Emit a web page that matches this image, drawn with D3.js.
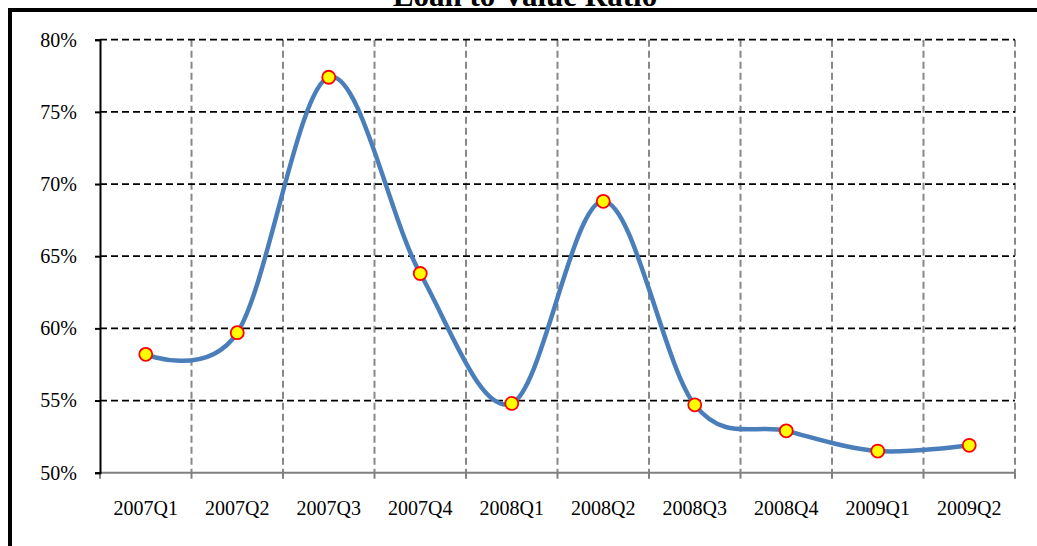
<!DOCTYPE html>
<html>
<head>
<meta charset="utf-8">
<script src="https://cdn.jsdelivr.net/npm/d3@7"></script>
<style>
  html, body { margin: 0; padding: 0; background: #fff; }
  svg { display: block; }
</style>
</head>
<body>
<div id="chart"></div>
<script>
// Quarterly loan-to-value ratio (percent)
const quarters = ["2007Q1", "2007Q2", "2007Q3", "2007Q4", "2008Q1", "2008Q2", "2008Q3", "2008Q4", "2009Q1", "2009Q2"];
const ltvValues = [58.2, 59.7, 77.4, 63.8, 54.8, 68.8, 54.7, 52.9, 51.5, 51.9];
const yTicks = [50, 55, 60, 65, 70, 75, 80];
const chartTitle = "Loan to Value Ratio";

const W = 1037, H = 546;
const margin = { left: 100, right: 22, top: 39.7, bottom: 73.3 };
const plotW = W - margin.left - margin.right;
const plotH = H - margin.top - margin.bottom;
const serif = "'Liberation Serif', 'Times New Roman', serif";

const svg = d3.select("#chart").append("svg")
  .attr("width", W).attr("height", H);

// Outer frame
svg.append("rect")
  .attr("x", 10).attr("y", 10)
  .attr("width", W + 20).attr("height", H + 20)
  .attr("fill", "none").attr("stroke", "#000").attr("stroke-width", 4);

// Title (sits above the frame, partly beyond the top edge)
svg.append("text")
  .attr("x", 525).attr("y", 6)
  .attr("text-anchor", "middle")
  .attr("font-family", serif).attr("font-weight", "bold").attr("font-size", 31)
  .text(chartTitle);

const g = svg.append("g").attr("transform", `translate(${margin.left},${margin.top})`);

const x = d3.scaleBand().domain(quarters).range([0, plotW]);
const y = d3.scaleLinear().domain([50, 80]).range([plotH, 0]);

// Vertical grid lines at category boundaries
const bounds = quarters.map(q => x(q)).concat([plotW]);
g.append("g").selectAll("line").data(bounds.slice(1)).join("line")
  .attr("x1", d => d).attr("x2", d => d)
  .attr("y1", 0).attr("y2", plotH)
  .attr("stroke", "#888").attr("stroke-width", 2)
  .attr("stroke-dasharray", "7,4");

// Horizontal grid lines
g.append("g").selectAll("line").data(yTicks.filter(t => t > 50)).join("line")
  .attr("x1", 0).attr("x2", plotW)
  .attr("y1", d => y(d)).attr("y2", d => y(d))
  .attr("stroke", "#000").attr("stroke-width", 1.7)
  .attr("stroke-dasharray", "7,4");

// X axis: gray baseline with tick marks at boundaries
const xAxisG = g.append("g").attr("transform", `translate(0,${plotH})`);
xAxisG.append("line")
  .attr("x1", 0).attr("x2", plotW)
  .attr("stroke", "#808080").attr("stroke-width", 2);
xAxisG.selectAll("line.tick").data(bounds).join("line")
  .attr("class", "tick")
  .attr("x1", d => d).attr("x2", d => d)
  .attr("y1", 0).attr("y2", 6)
  .attr("stroke", "#808080").attr("stroke-width", 2);
xAxisG.selectAll("text").data(quarters).join("text")
  .attr("x", d => x(d) + x.bandwidth() / 2)
  .attr("y", 42)
  .attr("text-anchor", "middle")
  .attr("font-family", serif).attr("font-size", 20)
  .attr("fill", "#000")
  .text(d => d);

// Y axis
const yAxis = d3.axisLeft(y)
  .tickValues(yTicks)
  .tickSize(5)
  .tickPadding(18)
  .tickFormat(d => d + "%");
const yAxisG = g.append("g").call(yAxis);
yAxisG.select(".domain").attr("stroke", "#000").attr("stroke-width", 2);
yAxisG.selectAll(".tick line").attr("stroke", "#000").attr("stroke-width", 2);
yAxisG.selectAll(".tick text")
  .attr("font-family", serif).attr("font-size", 20).attr("fill", "#000");

// Smoothed series line
const cx = d => x(d.q) + x.bandwidth() / 2;
const pts = quarters.map((q, i) => ({ q, v: ltvValues[i] }));
const line = d3.line()
  .x(cx).y(d => y(d.v))
  .curve(d3.curveCardinal.tension(0));
g.append("path")
  .datum(pts)
  .attr("d", line)
  .attr("fill", "none")
  .attr("stroke", "#4a7ebb")
  .attr("stroke-width", 4.5)
  .attr("stroke-linecap", "round");

// Markers
g.append("g").selectAll("circle").data(pts).join("circle")
  .attr("cx", cx).attr("cy", d => y(d.v))
  .attr("r", 6.5)
  .attr("fill", "#ffff00")
  .attr("stroke", "#ff0000").attr("stroke-width", 1.8);
</script>
</body>
</html>
